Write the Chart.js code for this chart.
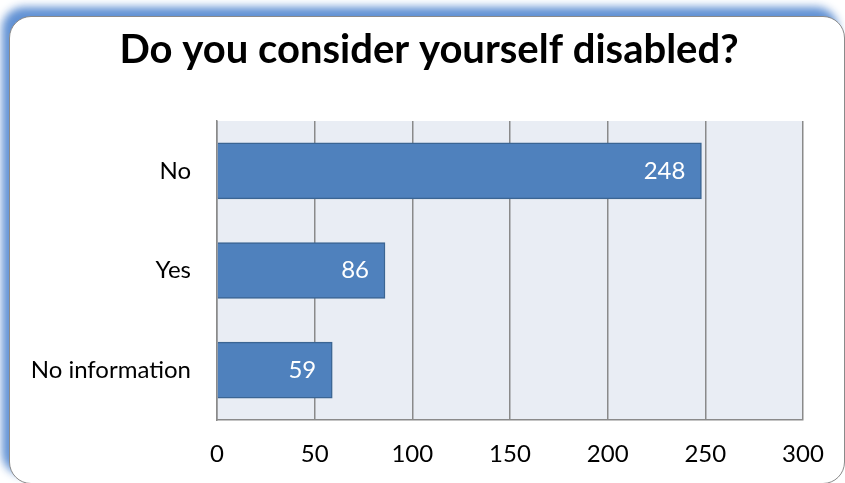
<!DOCTYPE html>
<html>
<head>
<meta charset="utf-8">
<script src="https://cdn.jsdelivr.net/npm/chart.js@4.4.0/dist/chart.umd.min.js"></script>
<style>
    html, body { margin: 0; padding: 0; background: #fff; overflow: hidden; }
    #frame {
        position: absolute;
        left: 9px; top: 16px;
        width: 834px; height: 466px;
        border: 1.5px solid #8a8a8a;
        border-radius: 22px;
        background: #fff;
        box-shadow: -7px -9px 9px rgba(90, 140, 210, 0.95);
    }
    #wrap { position: absolute; left: 0; top: 0; width: 845px; height: 483px; }
</style>
</head>
<body>
<div id="frame"></div>
<div id="wrap"><canvas id="chart" width="845" height="483"></canvas></div>
<script>
// Chart data
const categories = ['No', 'Yes', 'No information'];
const counts = [248, 86, 59];
const xTicks = [0, 50, 100, 150, 200, 250, 300];
const chartTitle = 'Do you consider yourself disabled?';

const FONT = 'Lato, "Open Sans", sans-serif';

// Plot background
const plotBackground = {
    id: 'plotBackground',
    beforeDraw(chart) {
        const { ctx, chartArea } = chart;
        ctx.save();
        ctx.fillStyle = '#e9edf4';
        ctx.fillRect(chartArea.left, chartArea.top, chartArea.right - chartArea.left, chartArea.bottom - chartArea.top);
        ctx.restore();
    }
};

// Title, centred on the frame rather than the canvas
const titleText = {
    id: 'titleText',
    afterDraw(chart) {
        const { ctx } = chart;
        ctx.save();
        ctx.fillStyle = '#000';
        ctx.font = 'bold 40px ' + FONT;
        ctx.textAlign = 'center';
        ctx.textBaseline = 'middle';
        ctx.fillText(chartTitle, 429, 50);
        ctx.restore();
    }
};

// Value labels inside the bar end
const valueLabels = {
    id: 'valueLabels',
    afterDatasetsDraw(chart) {
        const { ctx } = chart;
        const meta = chart.getDatasetMeta(0);
        ctx.save();
        ctx.fillStyle = '#ffffff';
        ctx.font = '24px ' + FONT;
        ctx.textAlign = 'right';
        ctx.textBaseline = 'middle';
        meta.data.forEach((bar, i) => {
            ctx.fillText(String(counts[i]), bar.x - 16, bar.y);
        });
        ctx.restore();
    }
};

new Chart(document.getElementById('chart'), {
    type: 'bar',
    data: {
        labels: categories,
        datasets: [{
            data: counts,
            backgroundColor: '#4f81bd',
            borderColor: '#3b6593',
            borderWidth: 1.5,
            barThickness: 56
        }]
    },
    options: {
        indexAxis: 'y',
        responsive: false,
        animation: false,
        layout: {
            padding: { left: 0, right: 42, top: 121, bottom: 0 }
        },
        plugins: {
            legend: { display: false },
            tooltip: { enabled: false },
            title: { display: false }
        },
        scales: {
            x: {
                min: 0,
                max: 300,
                afterBuildTicks(scale) {
                    scale.ticks = xTicks.map(v => ({ value: v }));
                },
                afterFit(scale) { scale.height = 63; },
                ticks: {
                    color: '#000',
                    font: { family: FONT, size: 24 },
                    padding: 20,
                    maxRotation: 0
                },
                grid: {
                    color: '#8a8a8a',
                    lineWidth: 1.5,
                    drawTicks: false
                },
                border: { color: '#8a8a8a', width: 1.5 }
            },
            y: {
                afterFit(scale) { scale.width = 217; },
                ticks: {
                    color: '#000',
                    font: { family: FONT, size: 24 },
                    padding: 26
                },
                grid: { display: false, drawTicks: false },
                border: { color: '#8a8a8a', width: 1.5 }
            }
        }
    },
    plugins: [plotBackground, valueLabels, titleText]
});
</script>
</body>
</html>
